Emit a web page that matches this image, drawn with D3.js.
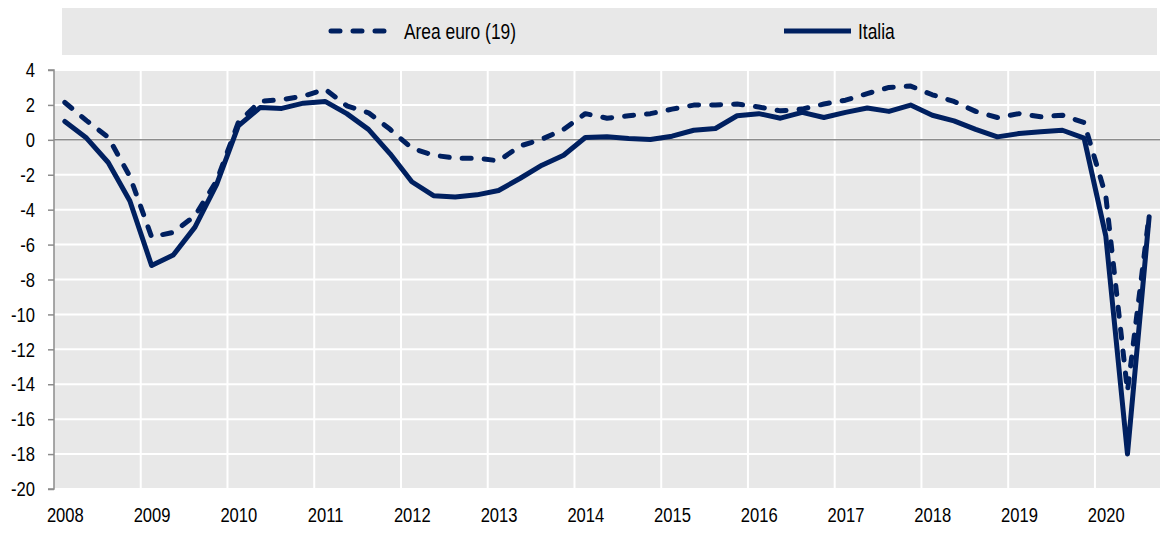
<!DOCTYPE html>
<html><head><meta charset="utf-8">
<script src="https://cdn.jsdelivr.net/npm/d3@7"></script>
<style>
body{margin:0;background:#fff;}
text{font-family:"Liberation Sans",Arial,sans-serif;fill:#000;}
</style></head>
<body><svg id="c" width="1161" height="533"></svg>
<script>
const years = ["2008","2009","2010","2011","2012","2013","2014","2015","2016","2017","2018","2019","2020"];
const yTicks = [4,2,0,-2,-4,-6,-8,-10,-12,-14,-16,-18,-20];
const seriesNames = ["Area euro (19)","Italia"];
const euro = [
 2.14, 1.1, 0.15, -2.1,
 -5.56, -5.3, -4.35, -2.35,
 1.0, 2.2, 2.3, 2.5,
 2.9, 1.95, 1.55, 0.6,
 -0.48, -0.88, -1.05, -1.05,
 -1.2, -0.35, 0.04, 0.6,
 1.5, 1.24, 1.38, 1.5,
 1.76, 1.99, 2.0, 2.05,
 1.88, 1.66, 1.76, 2.05,
 2.27, 2.65, 3.0, 3.08,
 2.58, 2.2, 1.63, 1.28,
 1.5, 1.32, 1.41, 0.99,
 -3.2, -14.4, -4.3
];
const italia = [
 1.05, 0.1, -1.3, -3.5,
 -7.2, -6.6, -5.0, -2.55,
 0.8, 1.85, 1.8, 2.1,
 2.2, 1.5, 0.6, -0.8,
 -2.4, -3.2, -3.27, -3.15,
 -2.9, -2.2, -1.45, -0.88,
 0.13, 0.17, 0.08, 0.02,
 0.21, 0.55, 0.65, 1.38,
 1.5, 1.24, 1.57, 1.28,
 1.57, 1.82, 1.63, 1.99,
 1.41, 1.09, 0.6, 0.17,
 0.36, 0.46, 0.55, 0.1,
 -5.5, -18.0, -4.4
];

const svg = d3.select("#c");
const navy = "#002060";
const SX = 0.79;
const L = 54, R = 1160, T = 70, B = 489;
const n = euro.length;
const x = d3.scaleLinear().domain([0, n]).range([L, R]);
const y = d3.scaleLinear().domain([-20, 4]).range([B, T]);

// legend
svg.append("rect").attr("x",62).attr("y",8).attr("width",1095).attr("height",47).attr("fill","#e8e8e8");
const leg = [{name:seriesNames[0], x1:331, x2:390, tx:404, dash:true},{name:seriesNames[1], x1:784, x2:851, tx:858, dash:false}];
leg.forEach(l=>{
  svg.append("line").attr("x1",l.x1).attr("x2",l.x2).attr("y1",31).attr("y2",31)
    .attr("stroke",navy).attr("stroke-width",5).attr("stroke-linecap", l.dash?"round":"butt")
    .attr("stroke-dasharray", l.dash?"9,13":null);
  svg.append("text").attr("transform",`translate(${l.tx},31) scale(${SX},1)`).attr("dy","0.35em").attr("font-size",22).text(l.name);
});

// plot background
svg.append("rect").attr("x",L).attr("y",T).attr("width",R-L).attr("height",B-T).attr("fill","#e8e8e8");

// grid
svg.append("g").selectAll("line").data(yTicks).join("line")
  .attr("x1",L).attr("x2",R).attr("y1",d=>y(d)).attr("y2",d=>y(d))
  .attr("stroke","#fff").attr("stroke-width",2);
svg.append("g").selectAll("line").data(years.slice(1)).join("line")
  .attr("x1",(d,i)=>x((i+1)*4)).attr("x2",(d,i)=>x((i+1)*4)).attr("y1",T).attr("y2",B)
  .attr("stroke","#fff").attr("stroke-width",2);

// zero line
svg.append("line").attr("x1",L).attr("x2",R).attr("y1",y(0)).attr("y2",y(0)).attr("stroke","#8c8c8c").attr("stroke-width",1.5);

// y axis
const yAxis = d3.axisLeft(y).tickValues(yTicks).tickSize(6).tickPadding(13).tickFormat(d=>d);
const ga = svg.append("g").attr("transform",`translate(${L},0)`).call(yAxis);
ga.select(".domain").attr("stroke","#8c8c8c").attr("stroke-width",1.5).attr("d",`M-6,${y(4)}H0V${y(-20)}H-6`);
ga.selectAll(".tick line").attr("stroke","#8c8c8c").attr("stroke-width",1.5);
ga.selectAll(".tick text").attr("font-size",21).attr("font-family",null).attr("fill","#000")
  .attr("x",null).attr("transform",`translate(-19,0) scale(${SX},1)`);

// x labels
const xAxis = d3.axisBottom(x).tickValues(years.map((d,i)=>i*4+0.5)).tickSize(0).tickPadding(19).tickFormat((d,i)=>years[i]);
const gx = svg.append("g").attr("transform",`translate(0,${B})`).call(xAxis);
gx.select(".domain").remove();
gx.selectAll(".tick text").attr("font-size",21).attr("font-family",null).attr("fill","#000")
  .attr("y",null).attr("transform",`translate(0,18) scale(${SX},1)`);

// lines
const line = d3.line().x((d,i)=>x(i+0.5)).y(d=>y(d));
svg.append("path").datum(euro).attr("d",line).attr("fill","none").attr("stroke",navy)
  .attr("stroke-width",5).attr("stroke-dasharray","9,13").attr("stroke-linecap","round").attr("stroke-linejoin","round");
svg.append("path").datum(italia).attr("d",line).attr("fill","none").attr("stroke",navy)
  .attr("stroke-width",5).attr("stroke-linecap","round").attr("stroke-linejoin","round");
</script></body></html>
